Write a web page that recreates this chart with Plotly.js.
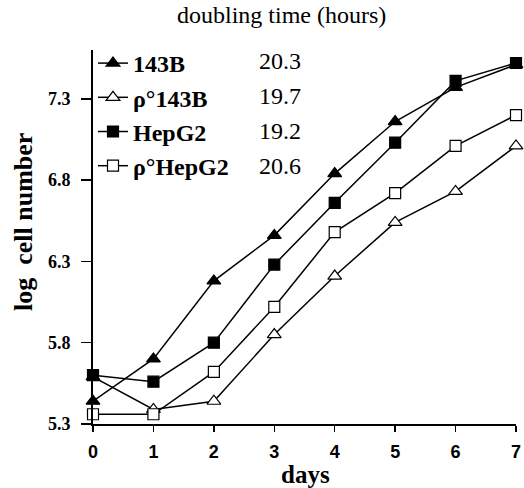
<!DOCTYPE html>
<html><head><meta charset="utf-8">
<script src="https://cdn.plot.ly/plotly-3.0.1.min.js"></script>
<style>html,body{margin:0;padding:0;background:#fff}#c{width:524px;height:488px}</style>
</head><body><div id="c"></div>
<script>
const days = [0, 1, 2, 3, 4, 5, 6, 7];
const names = ["143B", "\u03c1\u00b0143B", "HepG2", "\u03c1\u00b0HepG2"];
const doubling = ["20.3", "19.7", "19.2", "20.6"];
const s143B    = [5.44, 5.70, 6.18, 6.46, 6.84, 7.16, 7.37, 7.51];
const rho143B  = [5.59, 5.39, 5.44, 5.85, 6.21, 6.54, 6.73, 7.01];
const hepG2    = [5.60, 5.56, 5.80, 6.28, 6.66, 7.03, 7.41, 7.52];
const rhoHepG2 = [5.36, 5.36, 5.62, 6.02, 6.48, 6.72, 7.01, 7.20];
const yTicks = [5.3, 5.8, 6.3, 6.8, 7.3];
const xTicks = [0, 1, 2, 3, 4, 5, 6, 7];

const series = [s143B, rho143B, hepG2, rhoHepG2];
const symbols = ["triangle-up", "triangle-up", "square", "square"];
const fills = ["#000", "#fff", "#000", "#fff"];
const sizes = [12, 12, 11, 11];

const traces = series.map((ys, i) => ({
  x: days, y: ys, type: "scatter", mode: "lines+markers",
  name: "<b>" + names[i] + "</b>",
  legendgroup: "g" + i,
  cliponaxis: false,
  line: {color: "#000", width: 1.5},
  marker: {symbol: symbols[i], size: sizes[i], color: fills[i], line: {color: "#000", width: 1.2}}
}));

const serif = "Liberation Serif, Times New Roman, serif";
const W = 423, H = 374, L = 93, T = 50;
const px = v => (v - L) / W;
const py = v => (T + H - v) / H;
const annotations = doubling.map((d, i) => ({
  xref: "paper", yref: "paper", x: px(257), y: py(61 + 35 * i),
  xanchor: "left", yanchor: "middle", showarrow: false, text: d,
  font: {family: serif, size: 24, color: "#000"}
}));
annotations.push({
  xref: "paper", yref: "paper", x: px(281), y: py(15),
  xanchor: "center", yanchor: "middle", showarrow: false, text: "doubling time (hours)",
  font: {family: serif, size: 24, color: "#000"}
});
annotations.push({
  xref: "paper", yref: "paper", x: px(24), y: py(222),
  xanchor: "center", yanchor: "middle", showarrow: false, textangle: -90,
  text: "<b>log  cell number</b>",
  font: {family: serif, size: 26, color: "#000"}
});
annotations.push({
  xref: "paper", yref: "paper", x: px(305), y: py(474),
  xanchor: "center", yanchor: "middle", showarrow: false,
  text: "<b>days</b>",
  font: {family: serif, size: 25, color: "#000"}
});

const layout = {
  width: 524, height: 488,
  margin: {l: L, r: 8, t: T, b: 64},
  paper_bgcolor: "#fff", plot_bgcolor: "#fff",
  showlegend: true,
  legend: {
    x: px(93), y: py(41), xanchor: "left", yanchor: "top",
    bgcolor: "rgba(0,0,0,0)", borderwidth: 0,
    font: {family: serif, size: 24, color: "#000"},
    traceorder: "grouped", tracegroupgap: 0, itemwidth: 30
  },
  xaxis: {
    range: [0, 7], tickvals: xTicks, ticktext: xTicks.map(String),
    showgrid: false, zeroline: false, showline: true, linecolor: "#000", linewidth: 2,
    ticks: "outside", ticklen: 6, tickwidth: 1.5, tickcolor: "#000",
    tickfont: {family: "Liberation Sans, Arial, sans-serif", size: 18, color: "#000", weight: "bold"},
    ticklabelstandoff: 4
  },
  yaxis: {
    range: [5.3, 7.6], tickvals: yTicks, ticktext: yTicks.map(v => "<b>" + v.toFixed(1) + "</b>"),
    showgrid: false, zeroline: false, showline: true, linecolor: "#000", linewidth: 2,
    ticks: "outside", ticklen: 10, tickwidth: 1.5, tickcolor: "#000",
    tickfont: {family: serif, size: 18, color: "#000"},
    ticklabelstandoff: 7
  },
  annotations: annotations
};

Plotly.newPlot("c", traces, layout, {displayModeBar: false, staticPlot: true});
</script></body></html>
